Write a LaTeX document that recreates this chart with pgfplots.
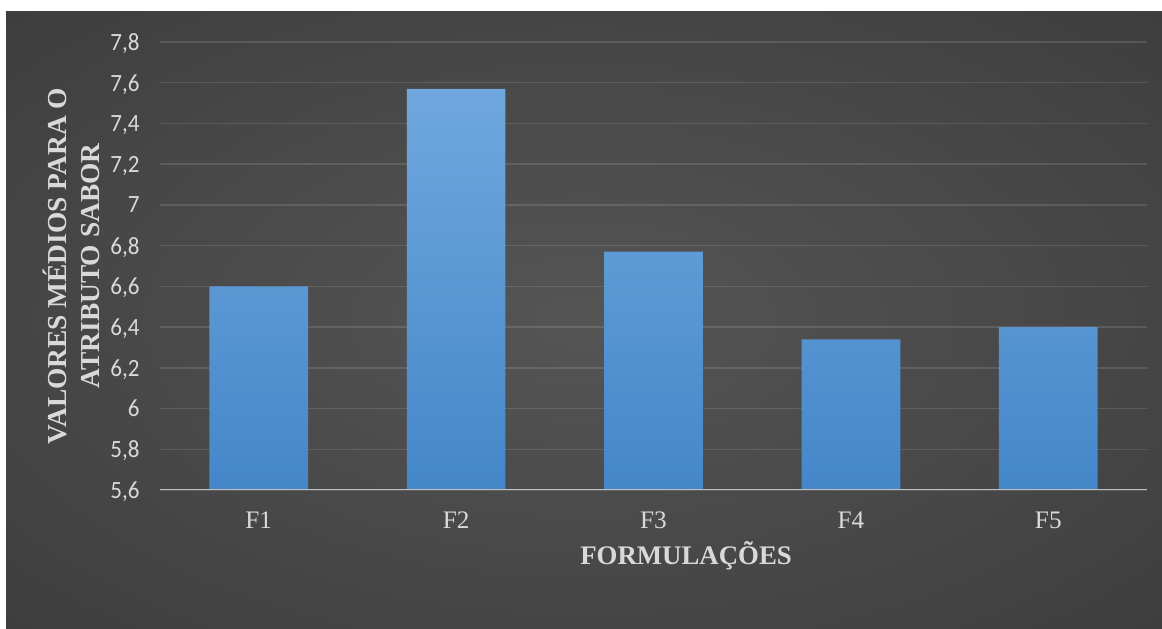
\documentclass[border=0pt]{standalone}
\usepackage{fontspec}
\setmainfont{Liberation Serif}
\newfontfamily\carlito{Carlito}
\usepackage{graphicx}
\usepackage{pgfplots}
\pgfplotsset{compat=1.18}
\definecolor{bgin}{HTML}{555555}
\definecolor{bgout}{HTML}{262626}
\definecolor{txt}{HTML}{D9D9D9}
\definecolor{barTop}{HTML}{70A7DE}
\definecolor{barBot}{HTML}{4487C9}
\definecolor{axln}{HTML}{BFBFBF}
\pgfdeclareradialshading{bgshade}{\pgfpoint{0bp}{0bp}}{color(0bp)=(bgin); color(72bp)=(bgout)}
\begin{document}
\begin{tikzpicture}
\fill[white] (0,0) rectangle (581bp,314.5bp);
\shade[shading=bgshade] (3bp,0) rectangle (581bp,308.5bp);
\begin{axis}[
  at={(80bp,69.5bp)}, anchor=south west,
  scale only axis, width=493.5bp, height=224bp,
  xmin=-0.5, xmax=4.5, ymin=5.6, ymax=7.8,
  xtick={0,1,2,3,4},
  xticklabels={F1,F2,F3,F4,F5},
  ytick={5.6,5.8,6,6.2,6.4,6.6,6.8,7,7.2,7.4,7.6,7.8},
  major tick length=0pt,
  axis x line*=bottom, axis y line*=left,
  axis line style={draw=none},
  ymajorgrids,
  major grid style={draw=white, draw opacity=0.12, line width=0.75bp},
  /pgf/number format/use comma,
  /pgf/number format/assume math mode=true,
  yticklabel={\scalebox{0.93}[1]{\pgfmathprintnumber{\tick}}},
  yticklabel style={font=\carlito\fontsize{12.4bp}{14bp}\selectfont, text=txt, anchor=east, inner sep=0pt, text depth=0pt, xshift=-10bp},
  xticklabel style={font=\fontsize{12.6bp}{14bp}\selectfont, text=txt, anchor=base, yshift=-19bp},
  xlabel={FORMULAÇÕES},
  xlabel style={at={(axis description cs:0.533,-0.167)}, anchor=base, font=\bfseries\fontsize{13.4bp}{16bp}\selectfont, text=txt},
  ylabel={VALORES MÉDIOS PARA O\\ATRIBUTO SABOR},
  ylabel style={at={(axis description cs:-0.0896,0.5)}, anchor=center, align=center, font=\bfseries\fontsize{13.7bp}{16.5bp}\selectfont, text=txt},
  clip=true,
]
\addplot[ybar, bar width=0.5, draw=none, top color=barTop, bottom color=barBot]
  coordinates {(0,6.60) (1,7.57) (2,6.77) (3,6.34) (4,6.40)};
\draw[axln, line width=0.9bp] (axis cs:-0.5,5.6) -- (axis cs:4.5,5.6);
\end{axis}
\pgfresetboundingbox
\path (0,0) rectangle (581bp,314.5bp);
\end{tikzpicture}
\end{document}
